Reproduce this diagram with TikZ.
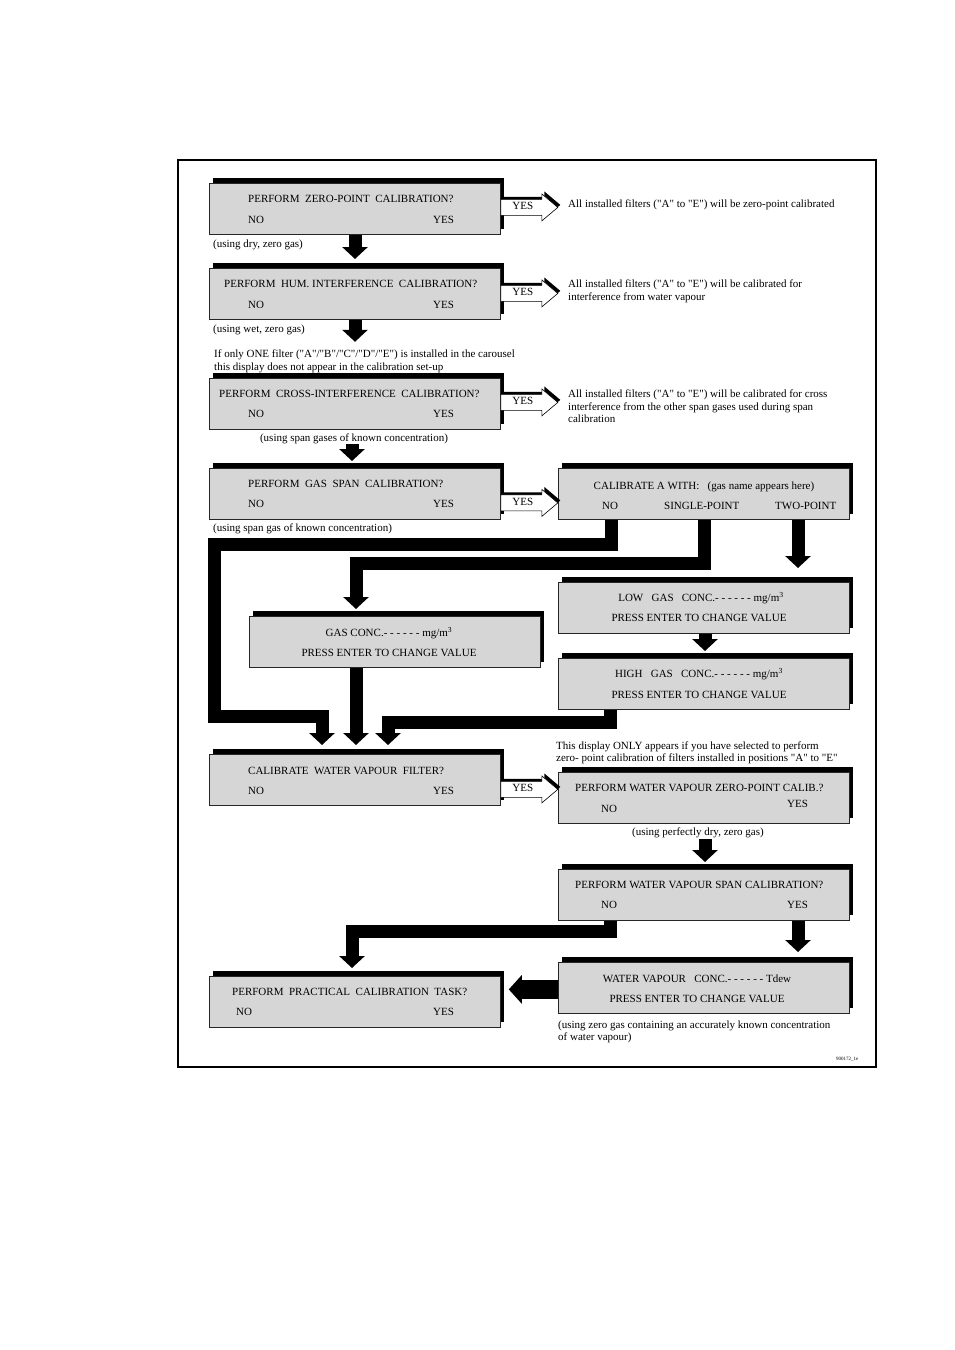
\documentclass[tikz,border=0pt]{standalone}
\usepackage{fontspec}
\setmainfont{Liberation Serif}
\usetikzlibrary{arrows.meta,shadows,calc}

\definecolor{panelgray}{RGB}{214,214,214}
\newcommand{\dq}{\textquotedbl}

\tikzset{
  panel/.style={draw=black!85, line width=0.8pt, fill=panelgray, anchor=north west,
    minimum width=291pt, minimum height=51pt, inner sep=0pt,
    drop shadow={shadow xshift=4pt, shadow yshift=5pt, fill=black, opacity=1}},
  txt/.style={anchor=base west, inner sep=0pt},
  ctxt/.style={anchor=base, inner sep=0pt},
  bigarrow/.style={line width=13pt, -{Triangle[width=25pt,length=12pt]}},
}

% hollow YES arrow starting at a coordinate
\newcommand{\yesarrow}[2]{%
  \fill[black] ([shift={(2.5,-2.5)}]#1) +(0,-8) -- +(41,-8) -- +(41,-13.5) -- +(57,0)
    -- +(41,13.5) -- +(41,8) -- +(0,8) -- cycle;
  \draw[fill=white, line width=0.6pt] (#1) +(0,-8) -- +(41,-8) -- +(41,-13.5) -- +(57,0)
    -- +(41,13.5) -- +(41,8) -- +(0,8) -- cycle;
  \node[inner sep=0pt] (#2) at ([xshift=22pt,yshift=1pt]#1) {YES};
}

\begin{document}
\begin{tikzpicture}[x=1pt,y=-1pt,font=\fontsize{11}{13}\selectfont]
\useasboundingbox (0,0) rectangle (955,1350);

% --- Frame ---
\draw[line width=1.2pt] (178,160) rectangle (876,1067);

% --- Display panels ---
\node[panel] (zero) at (209,183) {};
\node[panel] (hum) at (209,268) {};
\node[panel] (cross) at (209,378) {};
\node[panel] (span) at (209,468) {};
\node[panel] (calwith) at (558,468) {};
\node[panel] (gasconc) at (249,616) {};
\node[panel] (lowconc) at (558,582) {};
\node[panel] (highconc) at (558,658) {};
\node[panel] (wvfilter) at (209,754) {};
\node[panel] (wvzero) at (558,772) {};
\node[panel] (wvspan) at (558,869) {};
\node[panel] (wvconc) at (558,962) {};
\node[panel] (practical) at (209,976) {};

% --- Panel texts ---
\node[txt] (zero-q) at (248,202) {PERFORM~~ZERO-POINT~~CALIBRATION?};
\node[txt] (zero-no) at (248,223) {NO};
\node[txt] (zero-yes) at (433,223) {YES};
\node[txt] (hum-q) at (224,287) {PERFORM~~HUM. INTERFERENCE~~CALIBRATION?};
\node[txt] (hum-no) at (248,308) {NO};
\node[txt] (hum-yes) at (433,308) {YES};
\node[txt] (cross-q) at (219,397) {PERFORM~~CROSS-INTERFERENCE~~CALIBRATION?};
\node[txt] (cross-no) at (248,417) {NO};
\node[txt] (cross-yes) at (433,417) {YES};
\node[txt] (span-q) at (248,487) {PERFORM~~GAS~~SPAN~~CALIBRATION?};
\node[txt] (span-no) at (248,507) {NO};
\node[txt] (span-yes) at (433,507) {YES};
\node[ctxt] (calwith-q) at (704,489) {CALIBRATE A WITH:~~~(gas name appears here)};
\node[txt] (calwith-no) at (602,509) {NO};
\node[txt] (calwith-single) at (664,509) {SINGLE-POINT};
\node[txt] (calwith-two) at (775,509) {TWO-POINT};
\node[ctxt] (gasconc-v) at (389,636) {GAS CONC.- - - - - - mg/m\textsuperscript{3}};
\node[ctxt] (gasconc-e) at (389,656) {PRESS ENTER TO CHANGE VALUE};
\node[ctxt] (lowconc-v) at (701,601) {LOW~~~GAS~~~CONC.- - - - - - mg/m\textsuperscript{3}};
\node[ctxt] (lowconc-e) at (699,621) {PRESS ENTER TO CHANGE VALUE};
\node[ctxt] (highconc-v) at (699,677) {HIGH~~~GAS~~~CONC.- - - - - - mg/m\textsuperscript{3}};
\node[ctxt] (highconc-e) at (699,698) {PRESS ENTER TO CHANGE VALUE};
\node[txt] (wvfilter-q) at (248,774) {CALIBRATE~~WATER VAPOUR~~FILTER?};
\node[txt] (wvfilter-no) at (248,794) {NO};
\node[txt] (wvfilter-yes) at (433,794) {YES};
\node[txt] (wvzero-q) at (575,791) {PERFORM WATER VAPOUR ZERO-POINT CALIB.?};
\node[txt] (wvzero-no) at (601,812) {NO};
\node[txt] (wvzero-yes) at (787,807) {YES};
\node[txt] (wvspan-q) at (575,888) {PERFORM WATER VAPOUR SPAN CALIBRATION?};
\node[txt] (wvspan-no) at (601,908) {NO};
\node[txt] (wvspan-yes) at (787,908) {YES};
\node[ctxt] (wvconc-v) at (697,982) {WATER VAPOUR~~~CONC.- - - - - - Tdew};
\node[ctxt] (wvconc-e) at (697,1002) {PRESS ENTER TO CHANGE VALUE};
\node[txt] (practical-q) at (232,995) {PERFORM~~PRACTICAL~~CALIBRATION~~TASK?};
\node[txt] (practical-no) at (236,1015) {NO};
\node[txt] (practical-yes) at (433,1015) {YES};

% --- Notes ---
\node[txt] (zero-note) at (213,247) {(using dry, zero gas)};
\node[txt] (hum-note) at (213,332) {(using wet, zero gas)};
\node[txt] (only-1) at (214,357) {If only ONE filter (\dq A\dq/\dq B\dq/\dq C\dq/\dq D\dq/\dq E\dq) is installed in the carousel};
\node[txt] (only-2) at (214,370) {this display does not appear in the calibration set-up};
\node[ctxt] (cross-note) at (354,441) {(using span gases of known concentration)};
\node[txt] (span-note) at (213,531) {(using span gas of known concentration)};
\node[txt] (zero-r) at (568,207) {All installed filters (\dq A\dq{} to \dq E\dq) will be zero-point calibrated};
\node[txt] (hum-r1) at (568,287) {All installed filters (\dq A\dq{} to \dq E\dq) will be calibrated for};
\node[txt] (hum-r2) at (568,300) {interference from water vapour};
\node[txt] (cross-r1) at (568,397) {All installed filters (\dq A\dq{} to \dq E\dq) will be calibrated for cross};
\node[txt] (cross-r2) at (568,410) {interference from the other span gases used during span};
\node[txt] (cross-r3) at (568,422) {calibration};
\node[txt] (wv-only1) at (556,749) {This display ONLY appears if you have selected to perform};
\node[txt] (wv-only2) at (556,761) {zero- point calibration of filters installed in positions \dq A\dq{} to \dq E\dq};
\node[ctxt] (wvzero-note) at (698,835) {(using perfectly dry, zero gas)};
\node[txt] (wvconc-n1) at (558,1028) {(using zero gas containing an accurately known concentration};
\node[txt] (wvconc-n2) at (558,1040) {of water vapour)};
\node[txt, font=\fontsize{5}{6}\selectfont] (figno) at (836,1060) {900172\_1e};

% --- YES arrows ---
\coordinate (ya1) at ([yshift=1.5pt]zero.east);
\coordinate (ya2) at ([yshift=0.5pt]hum.east);
\coordinate (ya3) at ([yshift=1.5pt]cross.east);
\coordinate (ya4) at ([yshift=-9pt]span.east);
\coordinate (ya5) at ([yshift=-9.5pt]wvfilter.east);
\yesarrow{ya1}{ya1-t}
\yesarrow{ya2}{ya2-t}
\yesarrow{ya3}{ya3-t}
\yesarrow{ya4}{ya4-t}
\yesarrow{ya5}{ya5-t}

% --- Flow arrows ---
\coordinate (nobend1) at (214,544);
\coordinate (nobend2) at (214,716);
\coordinate (singlebend) at (356,563);
\coordinate (highbend) at (388,722);
\coordinate (spanbend) at (352,931);

\draw[bigarrow] ([xshift=146pt]zero.south west) -- ([xshift=146pt,yshift=9pt]hum.north west);
\draw[bigarrow] ([xshift=146pt]hum.south west) -- ([xshift=146pt,yshift=-22pt]hum.south west);
\draw[bigarrow] ([xshift=143pt,yshift=-14pt]cross.south west) -- ([xshift=143pt,yshift=7pt]span.north west);
\draw[bigarrow] ([xshift=53pt]calwith.south west) |- (nobend1) -- (nobend2)
  -| ([xshift=113pt,yshift=9pt]wvfilter.north west);
\draw[bigarrow] ([xshift=146pt]calwith.south west) |- (singlebend)
  -- ([xshift=107pt,yshift=7pt]gasconc.north west);
\draw[bigarrow] ([xshift=240pt]calwith.south west) -- ([xshift=240pt,yshift=14pt]lowconc.north west);
\draw[bigarrow] ([xshift=107pt]gasconc.south west) -- ([xshift=147pt,yshift=9pt]wvfilter.north west);
\draw[bigarrow] ([xshift=147pt]lowconc.south west) -- ([xshift=147pt,yshift=7pt]highconc.north west);
\draw[bigarrow] ([xshift=52pt]highconc.south west) |- (highbend)
  -- ([xshift=179pt,yshift=9pt]wvfilter.north west);
\draw[bigarrow] ([xshift=147pt,yshift=-15pt]wvzero.south west) -- ([xshift=147pt,yshift=7pt]wvspan.north west);
\draw[bigarrow] ([xshift=52pt]wvspan.south west) |- (spanbend)
  -- ([xshift=143pt,yshift=8pt]practical.north west);
\draw[bigarrow] ([xshift=240pt]wvspan.south west) -- ([xshift=240pt,yshift=10pt]wvconc.north west);
\draw[line width=19pt, -{Triangle[width=28pt,length=13pt]}] ([yshift=-1.5pt]wvconc.west)
  -- ([xshift=8pt,yshift=12.5pt]practical.east);

\end{tikzpicture}
\end{document}
